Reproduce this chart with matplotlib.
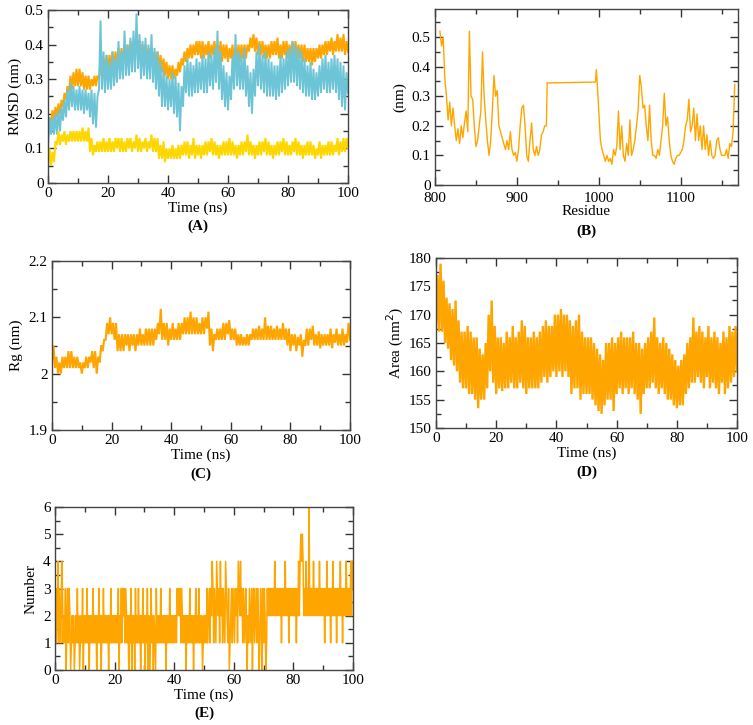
import matplotlib
matplotlib.use("Agg")
import matplotlib.pyplot as plt
from matplotlib.ticker import MultipleLocator, FormatStrFormatter
import numpy as np

plt.rcParams['font.family'] = ['Liberation Serif', 'DejaVu Serif']
plt.rcParams['font.size'] = 11

# The MD traces are very noisy, so they are kept as the lower / upper edge of
# the band, one pair per ns (0..100 ns).

# (A) RMSD
orange_lo = [0.15, 0.17, 0.18, 0.19, 0.20, 0.22, 0.24, 0.26, 0.27, 0.28, 0.28, 0.28, 0.27, 0.27, 0.27, 0.28,
             0.28, 0.30, 0.31, 0.32, 0.32, 0.33, 0.33, 0.34, 0.34, 0.35, 0.35, 0.36, 0.36, 0.37, 0.36, 0.36,
             0.35, 0.35, 0.34, 0.34, 0.33, 0.33, 0.32, 0.31, 0.30, 0.30, 0.30, 0.31, 0.32, 0.34, 0.35, 0.36,
             0.36, 0.37, 0.37, 0.36, 0.36, 0.37, 0.36, 0.37, 0.36, 0.36, 0.35, 0.36, 0.35, 0.36, 0.35, 0.36,
             0.35, 0.36, 0.36, 0.38, 0.39, 0.38, 0.37, 0.37, 0.36, 0.36, 0.36, 0.37, 0.37, 0.36, 0.36, 0.37,
             0.36, 0.36, 0.37, 0.36, 0.36, 0.35, 0.35, 0.35, 0.34, 0.35, 0.36, 0.36, 0.37, 0.37, 0.38, 0.37,
             0.38, 0.38, 0.38, 0.37, 0.38]
orange_hi = [0.19, 0.21, 0.22, 0.23, 0.24, 0.26, 0.28, 0.31, 0.32, 0.33, 0.33, 0.32, 0.31, 0.31, 0.30, 0.31,
             0.31, 0.35, 0.36, 0.37, 0.37, 0.38, 0.38, 0.39, 0.39, 0.40, 0.40, 0.41, 0.41, 0.42, 0.41, 0.40,
             0.40, 0.39, 0.39, 0.38, 0.38, 0.37, 0.36, 0.35, 0.34, 0.34, 0.33, 0.35, 0.36, 0.38, 0.39, 0.40,
             0.40, 0.41, 0.41, 0.41, 0.40, 0.41, 0.40, 0.41, 0.40, 0.41, 0.40, 0.40, 0.39, 0.40, 0.39, 0.40,
             0.40, 0.40, 0.40, 0.42, 0.43, 0.42, 0.41, 0.41, 0.40, 0.40, 0.41, 0.41, 0.42, 0.40, 0.41, 0.41,
             0.40, 0.41, 0.41, 0.40, 0.40, 0.40, 0.39, 0.39, 0.39, 0.39, 0.40, 0.40, 0.41, 0.41, 0.42, 0.41,
             0.43, 0.42, 0.43, 0.41, 0.42]
blue_lo = [0.10, 0.14, 0.14, 0.14, 0.15, 0.18, 0.19, 0.21, 0.22, 0.21, 0.21, 0.21, 0.20, 0.21, 0.19, 0.17,
           0.16, 0.27, 0.27, 0.26, 0.27, 0.27, 0.28, 0.29, 0.30, 0.30, 0.31, 0.31, 0.32, 0.32, 0.33, 0.30,
           0.31, 0.30, 0.30, 0.29, 0.27, 0.25, 0.22, 0.22, 0.21, 0.22, 0.20, 0.19, 0.15, 0.22, 0.26, 0.25,
           0.25, 0.26, 0.26, 0.27, 0.26, 0.26, 0.28, 0.27, 0.29, 0.27, 0.24, 0.22, 0.21, 0.24, 0.27, 0.28,
           0.27, 0.27, 0.25, 0.22, 0.20, 0.25, 0.28, 0.27, 0.26, 0.25, 0.25, 0.25, 0.24, 0.25, 0.26, 0.27,
           0.28, 0.29, 0.29, 0.28, 0.27, 0.26, 0.25, 0.25, 0.24, 0.24, 0.25, 0.26, 0.27, 0.26, 0.26, 0.27,
           0.26, 0.24, 0.22, 0.21, 0.26]
blue_hi = [0.19, 0.19, 0.20, 0.21, 0.22, 0.24, 0.27, 0.29, 0.28, 0.27, 0.28, 0.27, 0.27, 0.26, 0.27, 0.26,
           0.25, 0.47, 0.38, 0.37, 0.35, 0.38, 0.36, 0.41, 0.38, 0.44, 0.40, 0.42, 0.44, 0.49, 0.43, 0.41,
           0.42, 0.40, 0.43, 0.39, 0.38, 0.35, 0.33, 0.31, 0.30, 0.32, 0.31, 0.29, 0.28, 0.34, 0.36, 0.35,
           0.34, 0.36, 0.35, 0.37, 0.36, 0.38, 0.37, 0.39, 0.44, 0.38, 0.34, 0.32, 0.31, 0.37, 0.43, 0.38,
           0.37, 0.39, 0.34, 0.32, 0.33, 0.38, 0.40, 0.37, 0.38, 0.36, 0.35, 0.34, 0.34, 0.37, 0.36, 0.38,
           0.39, 0.41, 0.40, 0.39, 0.38, 0.36, 0.34, 0.35, 0.33, 0.32, 0.34, 0.36, 0.37, 0.35, 0.36, 0.37,
           0.36, 0.35, 0.34, 0.32, 0.30]
yellow_lo = [0.05, 0.05, 0.06, 0.11, 0.11, 0.12, 0.11, 0.12, 0.12, 0.12, 0.12, 0.12, 0.12, 0.12, 0.09, 0.08,
             0.09, 0.09, 0.09, 0.09, 0.09, 0.09, 0.09, 0.10, 0.09, 0.09, 0.09, 0.10, 0.09, 0.10, 0.09, 0.09,
             0.10, 0.09, 0.10, 0.09, 0.09, 0.07, 0.07, 0.06, 0.07, 0.07, 0.07, 0.07, 0.07, 0.08, 0.08, 0.07,
             0.08, 0.07, 0.08, 0.07, 0.08, 0.08, 0.09, 0.08, 0.08, 0.07, 0.08, 0.08, 0.08, 0.08, 0.08, 0.07,
             0.08, 0.08, 0.09, 0.08, 0.08, 0.07, 0.08, 0.08, 0.09, 0.08, 0.08, 0.07, 0.08, 0.08, 0.09, 0.08,
             0.08, 0.08, 0.09, 0.08, 0.08, 0.07, 0.08, 0.08, 0.08, 0.07, 0.08, 0.07, 0.08, 0.08, 0.08, 0.08,
             0.09, 0.08, 0.09, 0.09, 0.10]
yellow_hi = [0.10, 0.09, 0.12, 0.15, 0.14, 0.15, 0.14, 0.15, 0.15, 0.15, 0.15, 0.16, 0.15, 0.16, 0.13, 0.11,
             0.12, 0.12, 0.13, 0.12, 0.13, 0.12, 0.13, 0.13, 0.13, 0.12, 0.13, 0.13, 0.12, 0.14, 0.13, 0.12,
             0.13, 0.12, 0.14, 0.13, 0.13, 0.11, 0.12, 0.10, 0.10, 0.11, 0.10, 0.11, 0.11, 0.12, 0.12, 0.11,
             0.13, 0.11, 0.11, 0.11, 0.12, 0.12, 0.13, 0.12, 0.11, 0.11, 0.12, 0.12, 0.13, 0.12, 0.11, 0.11,
             0.12, 0.12, 0.14, 0.12, 0.11, 0.11, 0.12, 0.12, 0.13, 0.12, 0.11, 0.11, 0.12, 0.12, 0.13, 0.12,
             0.11, 0.12, 0.13, 0.12, 0.11, 0.11, 0.12, 0.12, 0.11, 0.10, 0.12, 0.11, 0.11, 0.12, 0.12, 0.11,
             0.13, 0.12, 0.13, 0.13, 0.14]

# (B) RMSF per residue
res_part1 = list(range(806, 938, 2))
rmsf_part1 = [0.52, 0.47, 0.50, 0.36, 0.30, 0.22, 0.28, 0.20, 0.26, 0.20, 0.15, 0.19, 0.14, 0.20, 0.16, 0.21,
              0.25, 0.18, 0.52, 0.30, 0.29, 0.20, 0.13, 0.15, 0.20, 0.25, 0.45, 0.30, 0.22, 0.15, 0.10, 0.15,
              0.25, 0.37, 0.30, 0.32, 0.20, 0.18, 0.16, 0.14, 0.12, 0.15, 0.12, 0.18, 0.12, 0.10, 0.11, 0.08,
              0.12, 0.20, 0.26, 0.27, 0.20, 0.10, 0.08, 0.15, 0.21, 0.12, 0.10, 0.13, 0.10, 0.12, 0.17, 0.18,
              0.20, 0.20]
res_gap = [937, 996, 997, 998, 1000]
rmsf_gap = [0.345, 0.348, 0.39, 0.35, 0.25]
res_part2 = list(range(1002, 1168, 2))
rmsf_part2 = [0.15, 0.12, 0.10, 0.08, 0.10, 0.08, 0.09, 0.07, 0.12, 0.10, 0.13, 0.25, 0.12, 0.20, 0.10, 0.08,
              0.14, 0.10, 0.22, 0.10, 0.12, 0.15, 0.20, 0.25, 0.37, 0.33, 0.26, 0.27, 0.20, 0.15, 0.27, 0.15,
              0.10, 0.10, 0.09, 0.12, 0.10, 0.15, 0.20, 0.31, 0.20, 0.23, 0.15, 0.10, 0.08, 0.07, 0.09, 0.10,
              0.10, 0.11, 0.12, 0.15, 0.20, 0.22, 0.29, 0.18, 0.20, 0.26, 0.15, 0.24, 0.15, 0.20, 0.12, 0.20,
              0.12, 0.17, 0.10, 0.15, 0.10, 0.09, 0.10, 0.15, 0.16, 0.12, 0.10, 0.10, 0.10, 0.12, 0.09, 0.14,
              0.13, 0.18, 0.34]
residues = res_part1 + res_gap + res_part2
rmsf = rmsf_part1 + rmsf_gap + rmsf_part2

# (C) radius of gyration
rg_lo = [2.02, 2.01, 2.00, 2.00, 2.01, 2.01, 2.01, 2.01, 2.01, 2.01, 2.00, 2.01, 2.01, 2.02, 2.01, 2.00,
         2.02, 2.04, 2.06, 2.07, 2.07, 2.06, 2.04, 2.04, 2.04, 2.05, 2.04, 2.05, 2.04, 2.05, 2.05, 2.05,
         2.05, 2.05, 2.05, 2.06, 2.07, 2.06, 2.06, 2.05, 2.06, 2.06, 2.06, 2.06, 2.07, 2.07, 2.07, 2.07,
         2.07, 2.07, 2.07, 2.07, 2.08, 2.05, 2.04, 2.06, 2.06, 2.06, 2.06, 2.07, 2.06, 2.06, 2.05, 2.05,
         2.05, 2.05, 2.05, 2.06, 2.06, 2.06, 2.06, 2.06, 2.06, 2.06, 2.06, 2.06, 2.06, 2.06, 2.06, 2.05,
         2.04, 2.05, 2.04, 2.05, 2.03, 2.05, 2.05, 2.06, 2.05, 2.05, 2.045, 2.05, 2.05, 2.05, 2.045, 2.055,
         2.05, 2.05, 2.05, 2.055, 2.06]
rg_hi = [2.05, 2.03, 2.02, 2.03, 2.03, 2.04, 2.04, 2.03, 2.03, 2.02, 2.02, 2.03, 2.03, 2.04, 2.04, 2.03,
         2.05, 2.06, 2.09, 2.10, 2.09, 2.09, 2.07, 2.07, 2.07, 2.07, 2.07, 2.07, 2.07, 2.08, 2.07, 2.08,
         2.08, 2.08, 2.08, 2.09, 2.115, 2.09, 2.09, 2.08, 2.09, 2.08, 2.09, 2.09, 2.10, 2.10, 2.11, 2.10,
         2.10, 2.09, 2.10, 2.10, 2.11, 2.08, 2.07, 2.08, 2.08, 2.09, 2.09, 2.095, 2.08, 2.08, 2.07, 2.07,
         2.065, 2.07, 2.07, 2.08, 2.08, 2.085, 2.08, 2.10, 2.085, 2.085, 2.08, 2.085, 2.08, 2.09, 2.08, 2.08,
         2.07, 2.07, 2.065, 2.07, 2.06, 2.08, 2.08, 2.085, 2.07, 2.075, 2.07, 2.07, 2.07, 2.08, 2.07, 2.08,
         2.07, 2.08, 2.07, 2.09, 2.08]

# (D) SASA
area_lo = [168, 167, 167, 165, 164, 162, 161, 160, 158, 157, 157, 156, 156, 155, 153.5, 155, 155, 157, 160,
           158, 156, 157, 156.5, 157, 157, 158, 157, 157, 158, 157, 156, 157, 157, 157, 157, 158, 159, 158,
           159, 160, 159, 160, 159, 160, 159, 156, 157, 157, 155, 156, 156, 156, 155, 154, 153, 152.5, 154,
           155, 155, 153, 156, 157, 156, 157, 156, 157, 156, 155, 152.5, 156, 157, 157, 158, 157, 156, 157,
           156, 155, 155, 154, 153.5, 154, 154, 156, 157, 158, 158, 159, 158, 157, 159, 157, 158, 157, 156,
           158, 156, 157, 158, 159, 160]
area_hi = [177, 179, 176, 173, 172, 171, 172.5, 169, 167, 167, 168, 167, 166, 166, 164, 163, 165, 170,
           172.5, 168, 166, 166, 165, 167, 166, 168, 166, 167, 169, 168, 166, 166, 167, 166, 167, 168, 169,
           168, 168, 170, 170, 171, 170, 170, 169, 168, 169, 170, 167, 166, 166, 166, 165, 164, 163, 162,
           165, 165, 166, 165, 166, 167, 166, 166, 166, 167, 165, 165, 164, 165, 166, 167, 169.5, 166, 165,
           166, 165, 164, 163, 162, 161, 162, 163, 165, 166, 169.5, 167, 168, 167, 166, 168, 166, 167, 166,
           165, 167, 166, 168, 167, 168, 168]

# (E) number of H-bonds, every 0.25 ns
hbond_digits = ("13124132143121302313" "20121201213120121302"
                "12131202121312120213" "12021312121202131212"
                "12121302131323132120" "21302120312131202131"
                "20213020131202103121" "21312121202121312121"
                "21213232313212120212" "13121202131213121201"
                "21213123132431321432" "31423132143213012313"
                "21323143242313213202" "13213023123132013203"
                "13201323232323242323" "23231323242323132323"
                "232313242" "45454" "2324232" "6" "232324232323242323"
                "23132423231324232313" "23242313232423232424" "3")
hbonds = [int(c) for c in hbond_digits]

ORANGE = '#FFA500'
BLUE = '#6CC4D6'
YELLOW = '#FFD700'
W, H = 753, 725

fig = plt.figure(figsize=(7.53, 7.25), dpi=100)


def box(l, t, r, b):
    return [l / W, 1 - b / H, (r - l) / W, (b - t) / H]


def style(ax, xmaj, xmin, ymaj, ymin):
    ax.xaxis.set_major_locator(MultipleLocator(xmaj))
    ax.xaxis.set_minor_locator(MultipleLocator(xmin))
    ax.yaxis.set_major_locator(MultipleLocator(ymaj))
    ax.yaxis.set_minor_locator(MultipleLocator(ymin))
    ax.xaxis.set_major_formatter(FormatStrFormatter('%g'))
    ax.yaxis.set_major_formatter(FormatStrFormatter('%g'))
    ax.tick_params(which='both', direction='in', top=True, right=True, color='#333333', width=1.0)
    ax.tick_params(which='major', length=6, pad=3, labelsize=11)
    ax.tick_params(which='minor', length=3.5)
    for s in ax.spines.values():
        s.set_color('#444444')
        s.set_linewidth(1.0)


def trace(ax, lo, hi, color, lw=1.3):
    # noisy trace: swing between the band edges, low at each ns, high half-way
    t = np.linspace(0, 100, len(lo))
    x = np.column_stack([t, t + 0.5]).ravel()[:-1]
    y = np.column_stack([lo, hi]).ravel()[:-1]
    ax.plot(x, y, color=color, lw=lw, solid_joinstyle='miter')


def tag(text, xc, yc):
    fig.text(xc / W, 1 - yc / H, text, ha='center', va='center', fontweight='bold', fontsize=11)


# A
ax = fig.add_axes(box(48, 10, 348, 183))
trace(ax, orange_lo, orange_hi, ORANGE, lw=1.5)
trace(ax, blue_lo, blue_hi, BLUE, lw=1.4)
trace(ax, yellow_lo, yellow_hi, YELLOW, lw=1.5)
ax.set_xlim(0, 100)
ax.set_ylim(0, 0.5)
style(ax, 20, 10, 0.1, 0.05)
ax.set_xlabel('Time (ns)', labelpad=1)
ax.set_ylabel('RMSD (nm)', labelpad=2)
tag('(A)', 198, 226)

# B
ax = fig.add_axes(box(435, 9, 738, 185))
ax.plot(residues, rmsf, color=ORANGE, lw=1.0)
ax.set_xlim(800, 1170)
ax.set_ylim(0, 0.595)
style(ax, 100, 50, 0.1, 0.05)
ax.tick_params(axis='x', which='major', pad=5)
ax.set_xlabel('Residue', labelpad=0)
ax.set_ylabel('(nm)', labelpad=4)
tag('(B)', 586, 231)

# C
ax = fig.add_axes(box(52, 261, 350, 430))
trace(ax, rg_lo, rg_hi, ORANGE, lw=1.5)
ax.set_xlim(0, 100)
ax.set_ylim(1.9, 2.2)
style(ax, 20, 10, 0.1, 0.05)
ax.set_xlabel('Time (ns)', labelpad=1)
ax.set_ylabel('Rg (nm)', labelpad=4)
tag('(C)', 201, 474)

# D
ax = fig.add_axes(box(436, 258, 737, 428))
trace(ax, area_lo, area_hi, ORANGE, lw=1.7)
ax.set_xlim(0, 100)
ax.set_ylim(150, 180)
style(ax, 20, 10, 5, 2.5)
ax.set_xlabel('Time (ns)', labelpad=1)
ax.set_ylabel('Area (nm$^2$)', labelpad=2)
tag('(D)', 587, 472)

# E
ax = fig.add_axes(box(55, 507, 353, 670))
ax.plot(np.linspace(0, 100, len(hbonds)), hbonds, color=ORANGE, lw=1.1)
ax.set_xlim(0, 100)
ax.set_ylim(0, 6)
style(ax, 20, 10, 1, 0.5)
ax.set_xlabel('Time (ns)', labelpad=1)
ax.set_ylabel('Number', labelpad=4)
tag('(E)', 204, 713)

fig.savefig('out.png', dpi=100)
